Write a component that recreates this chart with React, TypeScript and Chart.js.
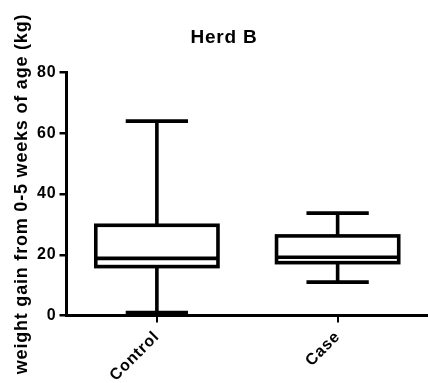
import React, { useEffect, useRef } from "react";
import { Chart, registerables } from "chart.js";

Chart.register(...registerables);

const chartTitle = "Herd B";
const yAxisTitle = "weight gain from 0-5 weeks of age (kg)";
const categories = ["Control", "Case"];
const mins = [1, 11.0];
const q1s = [16.1, 17.4];
const medians = [18.8, 19.2];
const q3s = [29.7, 26.2];
const maxs = [64, 33.7];
const yMin = 0;
const yMax = 80;
const yStep = 20;

const FONT = "'Liberation Sans', Arial, sans-serif";
const SPACING = "0.8px";

const spacingPlugin = {
  id: "spacing",
  beforeUpdate(chart: any) {
    chart.ctx.letterSpacing = SPACING;
  },
  beforeDraw(chart: any) {
    chart.ctx.letterSpacing = SPACING;
  },
};

const boxPlugin = {
  id: "boxes",
  afterDatasetsDraw(chart: any) {
    const ctx = chart.ctx;
    const meta = chart.getDatasetMeta(0);
    const ys = chart.scales.y;
    ctx.save();
    ctx.strokeStyle = "#000";
    ctx.lineWidth = 3.6;
    ctx.lineCap = "butt";
    meta.data.forEach((el: any, i: number) => {
      const x = el.x;
      const w = el.width;
      const left = x - w / 2;
      const right = x + w / 2;
      const yq1 = ys.getPixelForValue(q1s[i]);
      const yq3 = ys.getPixelForValue(q3s[i]);
      const ymed = ys.getPixelForValue(medians[i]);
      const ymin = ys.getPixelForValue(mins[i]);
      const ymax = ys.getPixelForValue(maxs[i]);
      const cap = w * 0.51;
      ctx.strokeRect(left, yq3, w, yq1 - yq3);
      ctx.beginPath();
      ctx.moveTo(left, ymed);
      ctx.lineTo(right, ymed);
      ctx.stroke();
      ctx.beginPath();
      ctx.moveTo(x, yq3);
      ctx.lineTo(x, ymax);
      ctx.moveTo(x, yq1);
      ctx.lineTo(x, ymin);
      ctx.moveTo(x - cap / 2, ymax);
      ctx.lineTo(x + cap / 2, ymax);
      ctx.moveTo(x - cap / 2, ymin);
      ctx.lineTo(x + cap / 2, ymin);
      ctx.stroke();
    });
    ctx.restore();
  },
};

const titlePlugin = {
  id: "herdTitle",
  afterDraw(chart: any) {
    const ctx = chart.ctx;
    ctx.save();
    ctx.letterSpacing = SPACING;
    ctx.font = `bold 19px ${FONT}`;
    ctx.fillStyle = "#000";
    ctx.textAlign = "center";
    ctx.textBaseline = "alphabetic";
    ctx.fillText(chartTitle, chart.width / 2 + 10, 43);
    ctx.restore();
  },
};

export default function App() {
  const canvasRef = useRef<HTMLCanvasElement | null>(null);

  useEffect(() => {
    document.body.style.margin = "0";
    const canvas = canvasRef.current;
    if (!canvas) return;
    const chart = new Chart(canvas, {
      type: "bar",
      data: {
        labels: categories,
        datasets: [
          {
            data: categories.map((_, i) => [q1s[i], q3s[i]]) as any,
            backgroundColor: "#ffffff",
            borderWidth: 0,
            categoryPercentage: 1,
            barPercentage: 0.676,
          },
        ],
      },
      options: {
        responsive: false,
        animation: false,
        devicePixelRatio: 1,
        layout: { padding: { top: 72.5, right: -1, left: 0, bottom: 0 } },
        plugins: {
          legend: { display: false },
          tooltip: { enabled: false },
          title: { display: false },
        },
        scales: {
          x: {
            type: "category",
            offset: true,
            grid: {
              display: true,
              offset: false,
              drawOnChartArea: false,
              drawTicks: true,
              tickLength: 7,
              lineWidth: 2,
              color: "#000",
            },
            border: { display: true, color: "#000", width: 3 },
            ticks: {
              autoSkip: false,
              minRotation: 45,
              maxRotation: 45,
              padding: 5,
              color: "#000",
              font: { family: FONT, size: 16, weight: "bold" },
            },
            afterFit(scale: any) {
              scale.height = 67.5;
            },
          },
          y: {
            min: yMin,
            max: yMax,
            ticks: {
              stepSize: yStep,
              padding: 3,
              color: "#000",
              font: { family: FONT, size: 16, weight: "bold" },
            },
            grid: {
              display: true,
              drawOnChartArea: false,
              drawTicks: true,
              tickLength: 7,
              lineWidth: 2.5,
              color: "#000",
            },
            border: { display: true, color: "#000", width: 3 },
            title: {
              display: true,
              text: yAxisTitle,
              color: "#000",
              font: { family: FONT, size: 18, weight: "bold" },
              padding: { top: 11.5, bottom: 0 },
            },
            afterFit(scale: any) {
              scale.width = 66.5;
            },
          },
        },
      } as any,
      plugins: [spacingPlugin, boxPlugin, titlePlugin],
    });
    return () => chart.destroy();
  }, []);

  return (
    <div style={{ width: 428, height: 383 }}>
      <canvas ref={canvasRef} width={428} height={383} style={{ display: "block" }} />
    </div>
  );
}
